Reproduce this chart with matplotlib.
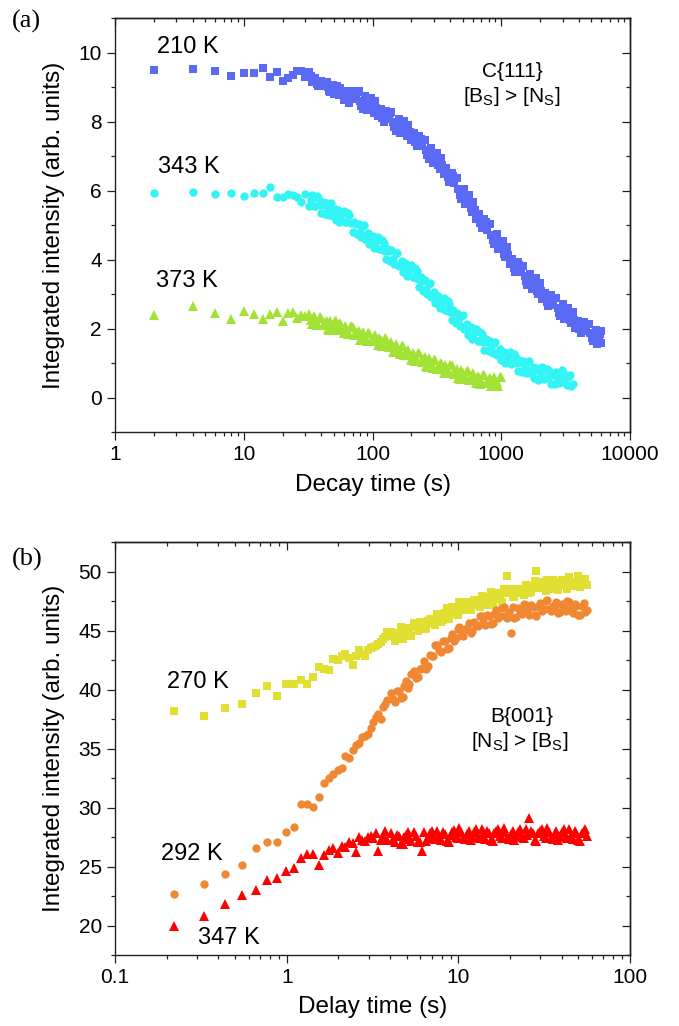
import matplotlib
matplotlib.use('Agg')
import matplotlib.pyplot as plt
from matplotlib.ticker import MultipleLocator, LogLocator, NullFormatter, FuncFormatter

plt.rcParams['font.family'] = ['Liberation Sans', 'DejaVu Sans']
plt.rcParams['mathtext.fontset'] = 'custom'
plt.rcParams['mathtext.rm'] = 'Liberation Sans'
plt.rcParams['mathtext.default'] = 'regular'

# ---------------- panel (a) data : decay time (s) ----------------
time_a_early = [2, 4, 6, 8, 10, 12, 14, 16, 18, 20, 22, 24, 26, 28, 30]
time_a_dense = [32, 34, 36, 38, 40, 42, 44, 46, 48, 50, 52, 54, 56, 60, 62, 66, 70, 74, 78, 82,
                86, 90, 94, 100, 104, 110, 116, 122, 128, 134, 140, 148, 156, 164, 172, 180, 190,
                200, 210, 220, 230, 242, 254, 266, 280, 294, 308, 324, 340, 356, 374, 392, 412,
                432, 454, 476, 500, 526, 552, 580, 608, 638, 670, 704, 740, 776, 816, 856, 898,
                944, 1000, 1050, 1104, 1160, 1218, 1280, 1344, 1412, 1484, 1558, 1636, 1718,
                1804, 1894, 1988, 2088, 2192, 2302, 2418, 2538, 2666, 2800, 2940, 3086, 3240,
                3402, 3600, 3760, 3950, 4148, 4356, 4574, 4802, 5042, 5294, 5560, 5838, 6000]
time_a_mid = [33, 35, 37, 39, 41, 43, 45, 47, 49, 51, 53, 55, 58, 61, 64, 68, 72, 76, 80, 84,
              88, 92, 97, 102, 107, 113, 119, 125, 131, 137, 144, 152, 160, 168, 176, 185, 195,
              205, 215, 225, 236, 248, 260, 273, 287, 301, 316, 332, 348, 365, 383, 402, 422,
              443, 465, 488, 513, 539, 566, 594, 623, 654, 687, 722, 758, 796, 836, 877, 921,
              972, 1025, 1077, 1132, 1189, 1249, 1312, 1378, 1448, 1521, 1597, 1677, 1761,
              1849, 1941, 2038, 2140, 2247, 2360, 2478, 2602, 2733, 2870, 3013, 3163, 3321,
              3501, 3680, 3855, 4049, 4252, 4465, 4688, 4922, 5168, 5427, 5699, 5919]

int_210K = [9.50, 9.51, 9.47, 9.32, 9.40, 9.41, 9.54, 9.30, 9.43, 9.18, 9.25, 9.34, 9.47, 9.46, 9.30,
            9.45, 9.16, 9.26, 9.02, 9.19, 9.03, 9.16, 8.90, 8.97, 8.81, 8.97, 8.82, 8.97,
            8.63, 8.88, 8.54, 8.89, 8.66, 8.88, 8.46, 8.59, 8.33, 8.60,
            8.33, 8.59, 8.16, 8.36, 8.00, 8.31, 8.06, 8.28, 7.84, 7.95,
            7.67, 7.93, 7.66, 7.90, 7.46, 7.66, 7.28, 7.57, 7.28, 7.47,
            7.02, 7.10, 6.80, 7.03, 6.73, 6.95, 6.49, 6.66, 6.26, 6.51,
            6.21, 6.36, 5.88, 5.94, 5.60, 5.81, 5.48, 5.67, 5.18, 5.33,
            4.91, 5.18, 4.87, 5.03, 4.56, 4.63, 4.30, 4.49, 4.17, 4.36,
            3.87, 4.02, 3.63, 3.92, 3.63, 3.82, 3.37, 3.46, 3.16, 3.39,
            3.09, 3.31, 2.85, 3.03, 2.65, 2.96, 2.69, 2.90, 2.46, 2.57,
            2.28, 2.53, 2.25, 2.47, 2.03, 2.23, 1.86, 2.18, 1.93, 2.14,
            1.72, 1.84, 1.56, 1.83, 1.58]
int_210K_mid = [9.31, 9.18, 9.10, 9.16, 9.14, 9.15, 8.99, 8.85, 9.06, 8.87, 9.03, 8.77,
                8.85, 8.71, 8.64, 8.80, 8.83, 8.86, 8.60, 8.37, 8.73, 8.43, 8.69, 8.25,
                8.39, 8.21, 8.11, 8.24, 8.24, 8.26, 7.99, 7.74, 8.08, 7.76, 8.02, 7.57,
                7.69, 7.51, 7.40, 7.51, 7.48, 7.46, 7.17, 6.91, 7.22, 6.88, 7.10, 6.63,
                6.73, 6.53, 6.39, 6.47, 6.41, 6.37, 6.05, 5.76, 6.04, 5.67, 5.87, 5.37,
                5.44, 5.21, 5.05, 5.13, 5.08, 5.04, 4.72, 4.44, 4.74, 4.36, 4.55, 4.06,
                4.13, 3.90, 3.76, 3.86, 3.83, 3.81, 3.52, 3.26, 3.58, 3.24, 3.46, 2.99,
                3.09, 2.89, 2.77, 2.89, 2.88, 2.88, 2.61, 2.36, 2.70, 2.37, 2.61, 2.15,
                2.26, 2.08, 1.98, 2.11, 2.11, 2.12, 1.86, 1.63, 1.97, 1.66, 1.93]

int_343K = [5.94, 5.97, 5.91, 5.94, 5.83, 5.93, 5.94, 6.09, 5.80, 5.80, 5.90, 5.87, 5.80, 5.66, 5.90,
            5.56, 5.87, 5.56, 5.78, 5.35, 5.59, 5.64, 5.28, 5.65, 5.34,
            5.16, 5.43, 5.15, 5.42, 5.10, 5.28, 4.81, 5.02, 5.04, 4.65,
            4.99, 4.66, 4.45, 4.67, 4.37, 4.65, 4.30, 4.49, 4.03, 4.24,
            4.27, 3.87, 4.20, 3.86, 3.65, 3.89, 3.56, 3.85, 3.50, 3.68,
            3.20, 3.39, 3.40, 3.00, 3.32, 2.97, 2.74, 2.95, 2.62, 2.90,
            2.53, 2.72, 2.24, 2.45, 2.46, 2.07, 2.39, 2.05, 1.82, 2.05,
            1.73, 2.00, 1.65, 1.85, 1.39, 1.61, 1.65, 1.28, 1.62, 1.30,
            1.09, 1.33, 1.03, 1.33, 0.99, 1.21, 0.77, 1.01, 1.06, 0.71,
            1.07, 0.77, 0.58, 0.85, 0.56, 0.88, 0.56, 0.80, 0.39, 0.65,
            0.74, 0.41, 0.80, 0.53, 0.37, 0.66, 0.40]
int_343K_mid = [5.74, 5.54, 5.83, 5.57, 5.66, 5.32, 5.42, 5.61, 5.27, 5.46, 5.37, 5.10,
                5.31, 5.08, 5.35, 5.05, 5.10, 4.74, 4.81, 4.96, 4.60, 4.76, 4.63, 4.33,
                4.54, 4.30, 4.56, 4.26, 4.32, 3.96, 4.03, 4.18, 3.81, 3.96, 3.84, 3.53,
                3.73, 3.50, 3.75, 3.44, 3.48, 3.10, 3.16, 3.30, 2.92, 3.06, 2.92, 2.59,
                2.79, 2.54, 2.79, 2.48, 2.53, 2.16, 2.23, 2.37, 2.00, 2.14, 2.01, 1.70,
                1.89, 1.65, 1.91, 1.62, 1.69, 1.34, 1.43, 1.59, 1.24, 1.40, 1.28, 0.99,
                1.21, 0.98, 1.26, 0.99, 1.08, 0.74, 0.85, 1.03, 0.70, 0.88, 0.79, 0.51,
                0.75, 0.54, 0.84, 0.60, 0.71, 0.40, 0.54, 0.75, 0.44, 0.66, 0.59, 0.34]

int_373K = [2.39, 2.66, 2.44, 2.27, 2.50, 2.41, 2.27, 2.41, 2.47, 2.22, 2.45, 2.47, 2.30, 2.38, 2.35,
            2.43, 2.13, 2.29, 2.10, 2.32, 2.09, 2.23, 1.97, 2.12, 1.97,
            2.22, 2.02, 2.17, 1.86, 2.03, 1.84, 2.05, 1.80, 1.93, 1.66,
            1.80, 1.64, 1.88, 1.67, 1.81, 1.52, 1.68, 1.50, 1.71, 1.47,
            1.60, 1.31, 1.44, 1.26, 1.48, 1.27, 1.39, 1.09, 1.24, 1.06,
            1.28, 1.04, 1.17, 0.89, 1.03, 0.86, 1.09, 0.88, 1.01, 0.72,
            0.88, 0.70, 0.93, 0.69, 0.83, 0.55, 0.70, 0.53, 0.77, 0.56,
            0.70, 0.41, 0.58, 0.41, 0.65, 0.43, 0.58, 0.33, 0.49, 0.34,
            0.59]
int_373K_mid = [2.26, 2.35, 2.10, 2.33, 2.09, 2.18, 1.98, 2.22, 2.09, 2.22, 1.97, 2.12,
                2.00, 2.08, 1.84, 2.06, 1.81, 1.89, 1.67, 1.91, 1.76, 1.88, 1.63, 1.76,
                1.65, 1.74, 1.50, 1.72, 1.48, 1.56, 1.33, 1.55, 1.39, 1.49, 1.23, 1.35,
                1.22, 1.30, 1.06, 1.29, 1.05, 1.13, 0.91, 1.14, 0.99, 1.10, 0.84, 0.97,
                0.85, 0.94, 0.70, 0.93, 0.70, 0.78, 0.57, 0.80, 0.66, 0.77, 0.52, 0.65,
                0.54, 0.63, 0.40, 0.65, 0.43, 0.53, 0.33, 0.59, 0.46, 0.59]

# ---------------- panel (b) data : delay time (s) ----------------
time_b_early = [0.22, 0.33, 0.44, 0.55, 0.66, 0.77, 0.88, 0.99, 1.10, 1.21, 1.32, 1.43, 1.54,
                1.65, 1.76, 1.87, 1.98, 2.09, 2.20, 2.31, 2.42, 2.53, 2.64, 2.75, 2.86, 2.97,
                3.08, 3.19, 3.30, 3.41, 3.52, 3.63, 3.74, 3.85]
time_b_dense = [4.07, 4.29, 4.51, 4.73, 4.95, 5.17, 5.50, 5.83, 6.16, 6.49, 6.82, 7.15, 7.48,
                7.92, 8.36, 8.80, 9.24, 9.68, 10.12, 10.67, 11.22, 11.77, 12.32, 12.98, 13.64,
                14.30, 15.07, 15.84, 16.61, 17.49, 18.37, 19.25, 20.24, 21.23, 22.33, 23.43,
                24.64, 25.85, 27.17, 28.49, 29.92, 31.46, 33.00, 34.65, 36.41, 38.17, 40.15,
                42.13, 44.22, 46.42, 48.73, 51.15, 53.68, 56.10]
time_b_mid = [4.18, 4.40, 4.62, 4.84, 5.06, 5.33, 5.66, 5.99, 6.32, 6.65, 6.98, 7.31, 7.70,
              8.14, 8.58, 9.02, 9.46, 9.90, 10.39, 10.94, 11.49, 12.04, 12.65, 13.31, 13.97,
              14.68, 15.45, 16.22, 17.05, 17.93, 18.81, 19.74, 20.73, 21.78, 22.88, 24.03,
              25.24, 26.51, 27.83, 29.20, 30.69, 32.23, 33.82, 35.53, 37.29, 39.16, 41.14,
              43.17, 45.32, 47.57, 49.94, 52.41, 54.89]

int_270K = [38.16, 37.76, 38.41, 38.81, 39.71, 40.27, 39.43, 40.50, 40.44, 40.83, 40.44, 41.06,
            41.90, 41.76, 41.62, 42.61, 42.47, 42.80, 42.97, 42.69, 42.10, 42.86, 43.31, 43.03,
            42.80, 43.31, 43.54, 43.60, 43.73, 43.87, 44.00, 44.30, 44.49, 44.86,
            44.85, 44.10, 44.80, 44.25, 45.25, 44.90, 45.60, 44.95, 45.45, 45.10,
            45.95, 45.65, 46.40, 45.75, 46.45, 45.95, 47.00, 46.70, 47.40, 46.70,
            47.15, 46.75, 47.55, 47.20, 47.95, 47.15, 47.80, 47.20, 48.20, 47.80,
            48.50, 49.65, 48.20, 47.80, 48.55, 48.20, 48.90, 48.15, 48.75, 50.07,
            49.10, 48.60, 49.30, 48.50, 49.05, 48.40, 49.30, 48.90, 49.50, 48.75,
            49.10, 48.65, 49.35, 48.90]
int_270K_mid = [44.50, 44.28, 45.28, 44.70, 45.20, 44.55, 45.28, 45.73, 45.13, 45.83, 45.73, 45.45,
                46.10, 45.93, 46.95, 46.43, 46.98, 46.35, 47.05, 47.45, 46.80, 47.45, 47.30, 47.00,
                47.58, 47.30, 48.25, 47.65, 48.13, 47.45, 48.15, 48.53, 47.85, 48.48, 48.30, 47.98,
                48.55, 48.28, 49.20, 48.58, 49.03, 48.33, 48.98, 49.30, 48.58, 49.15, 48.93, 48.55,
                49.08, 48.75, 49.63, 48.95, 49.35]

int_292K = [22.70, 23.55, 24.39, 25.12, 26.56, 27.04, 27.09, 27.91, 28.36, 30.28, 30.30, 30.02,
            30.87, 32.10, 32.47, 32.84, 33.18, 33.32, 34.36, 34.16, 34.86, 35.29, 35.48, 35.99,
            36.05, 36.22, 36.70, 37.26, 37.68, 37.96, 37.54, 38.52, 38.75, 39.09,
            39.70, 38.95, 39.90, 39.40, 40.70, 40.45, 41.60, 41.05, 41.85, 41.70,
            42.90, 42.85, 43.80, 43.15, 44.10, 43.50, 44.70, 44.35, 45.30, 44.55,
            45.15, 44.80, 45.70, 45.35, 46.20, 45.45, 46.20, 45.60, 46.70, 46.20,
            47.00, 46.10, 44.80, 46.05, 46.90, 46.40, 47.20, 46.30, 47.00, 46.25,
            47.30, 46.80, 47.60, 46.65, 47.00, 46.45, 47.25, 46.65, 47.40, 46.45,
            47.10, 46.30, 47.30, 46.75]
int_292K_mid = [39.20, 39.90, 39.30, 40.30, 40.15, 41.35, 41.00, 41.70, 42.45, 42.00, 42.85, 43.80,
                43.35, 44.10, 43.45, 44.35, 44.10, 45.15, 44.60, 45.10, 45.65, 44.95, 45.50, 46.25,
                45.70, 46.30, 45.55, 46.40, 46.03, 46.93, 46.23, 46.58, 46.98, 46.18, 46.63, 47.28,
                46.63, 47.13, 46.28, 47.03, 46.63, 47.53, 46.80, 47.08, 47.40, 46.55, 46.93, 47.50,
                46.80, 47.25, 46.35, 47.05, 46.60]

int_347K = [20.00, 20.84, 21.86, 22.62, 22.98, 23.83, 24.03, 24.59, 24.87, 25.72, 26.08, 26.08,
            25.15, 26.00, 26.42, 26.56, 26.14, 26.76, 26.65, 27.04, 27.00, 26.19, 27.49, 27.27,
            27.12, 27.49, 27.60, 27.42, 27.88, 26.28, 27.27, 27.60, 27.97, 27.25,
            27.85, 27.05, 27.55, 26.90, 27.70, 27.30, 27.95, 27.10, 26.30, 27.15,
            27.85, 27.40, 28.05, 27.25, 27.75, 27.10, 27.90, 27.50, 28.25, 27.40,
            27.75, 27.25, 27.95, 27.50, 28.15, 27.35, 27.85, 27.20, 28.00, 27.60,
            28.25, 27.40, 27.75, 27.25, 27.95, 27.50, 28.15, 29.10, 27.85, 27.20,
            28.00, 27.60, 28.25, 27.40, 27.75, 27.25, 27.95, 27.50, 28.15, 27.35,
            27.85, 27.20, 28.00, 27.60]
int_347K_mid = [27.35, 27.70, 26.95, 27.50, 27.90, 27.15, 27.60, 27.10, 27.95, 27.45, 28.05, 27.30,
                27.55, 27.90, 27.15, 27.70, 28.10, 27.40, 27.90, 27.30, 28.05, 27.55, 28.15, 27.40,
                27.65, 28.00, 27.25, 27.80, 28.20, 27.45, 27.90, 27.30, 28.05, 27.55, 28.15, 27.40,
                27.65, 28.00, 27.25, 27.80, 28.20, 27.45, 27.90, 27.30, 28.05, 27.55, 28.15, 27.40,
                27.65, 28.00, 27.25, 27.80, 28.20]

time_a = time_a_early + time_a_dense
time_b = time_b_early + time_b_dense

C_210, C_343, C_373 = '#5a6af4', '#33f4f4', '#a2e234'
C_270, C_292, C_347 = '#e2df33', '#f08733', '#fe0000'

fig = plt.figure(figsize=(6.79, 10.26), dpi=100)
ax_a = fig.add_axes([0.1694, 0.5789, 0.7585, 0.4035])
ax_b = fig.add_axes([0.1694, 0.0692, 0.7585, 0.4025])


def series(ax, t, y, tm, ym, marker, color, ms):
    xs = list(t[:len(y)]) + list(tm[:len(ym)])
    ys = list(y) + list(ym)
    ax.plot(xs, ys, marker, color=color, ms=ms, mew=0, zorder=3)


series(ax_a, time_a, int_210K, time_a_mid, int_210K_mid, 's', C_210, 5.6)
series(ax_a, time_a, int_343K, time_a_mid, int_343K_mid, 'o', C_343, 6.0)
series(ax_a, time_a, int_373K, time_a_mid, int_373K_mid, '^', C_373, 6.8)

series(ax_b, time_b, int_270K, time_b_mid, int_270K_mid, 's', C_270, 5.6)
series(ax_b, time_b, int_292K, time_b_mid, int_292K_mid, 'o', C_292, 6.0)
series(ax_b, time_b, int_347K, time_b_mid, int_347K_mid, '^', C_347, 6.8)

fmt = FuncFormatter(lambda v, p: f'{v:g}')
TICK_FS = 15
LABEL_FS = 17.5


def style(ax, xlim, ylim, ymaj, ymin):
    ax.set_xscale('log')
    ax.set_xlim(*xlim)
    ax.set_ylim(*ylim)
    ax.xaxis.set_major_locator(LogLocator(base=10, numticks=20))
    ax.xaxis.set_minor_locator(LogLocator(base=10, subs=range(2, 10), numticks=20))
    ax.xaxis.set_major_formatter(fmt)
    ax.xaxis.set_minor_formatter(NullFormatter())
    ax.yaxis.set_major_locator(MultipleLocator(ymaj))
    ax.yaxis.set_minor_locator(MultipleLocator(ymin))
    for s in ax.spines.values():
        s.set_linewidth(1.0)
        s.set_color('#222222')
    ax.tick_params(which='both', direction='out', top=False, right=False,
                   labelsize=TICK_FS, width=0.9, color='#222222', pad=4)
    ax.tick_params(which='major', length=5.5)
    ax.tick_params(which='minor', length=3)
    sx = ax.secondary_xaxis('top')
    sx.xaxis.set_major_locator(LogLocator(base=10, numticks=20))
    sx.xaxis.set_minor_locator(LogLocator(base=10, subs=range(2, 10), numticks=20))
    sx.tick_params(which='both', direction='in', labeltop=False, width=0.9, color='#222222')
    sx.tick_params(which='major', length=5.5)
    sx.tick_params(which='minor', length=3)
    sx.spines['top'].set_linewidth(1.0)
    sy = ax.secondary_yaxis('right')
    sy.yaxis.set_major_locator(MultipleLocator(ymaj))
    sy.yaxis.set_minor_locator(MultipleLocator(ymin))
    sy.tick_params(which='both', direction='in', labelright=False, width=0.9, color='#222222')
    sy.tick_params(which='major', length=5.5)
    sy.tick_params(which='minor', length=3)
    sy.spines['right'].set_linewidth(1.0)


style(ax_a, (1, 10000), (-1, 11), 2, 1)
style(ax_b, (0.1, 100), (17.5, 52.5), 5, 2.5)

ax_a.set_xlabel('Decay time (s)', fontsize=LABEL_FS, labelpad=7)
ax_a.set_ylabel('Integrated intensity (arb. units)', fontsize=LABEL_FS, labelpad=10)
ax_b.set_xlabel('Delay time (s)', fontsize=LABEL_FS, labelpad=6)
ax_b.set_ylabel('Integrated intensity (arb. units)', fontsize=LABEL_FS, labelpad=10)

ANN_FS = 17
ax_a.text(2.11, 9.98, '210 K', fontsize=ANN_FS, ha='left', va='baseline')
ax_a.text(2.15, 6.50, '343 K', fontsize=ANN_FS, ha='left', va='baseline')
ax_a.text(2.08, 3.19, '373 K', fontsize=ANN_FS, ha='left', va='baseline')
ax_a.text(0.771, 0.858, 'C{111}', fontsize=15, ha='center', va='baseline', transform=ax_a.transAxes)
ax_a.text(0.771, 0.798, r'[B$_\mathregular{S}$] > [N$_\mathregular{S}$]', fontsize=15,
          ha='center', va='baseline', transform=ax_a.transAxes)

ax_b.text(0.200, 40.13, '270 K', fontsize=ANN_FS, ha='left', va='baseline')
ax_b.text(0.1845, 25.57, '292 K', fontsize=ANN_FS, ha='left', va='baseline')
ax_b.text(0.306, 18.45, '347 K', fontsize=ANN_FS, ha='left', va='baseline')
ax_b.text(0.790, 0.565, 'B{001}', fontsize=15, ha='center', va='baseline', transform=ax_b.transAxes)
ax_b.text(0.786, 0.504, r'[N$_\mathregular{S}$] > [B$_\mathregular{S}$]', fontsize=15,
          ha='center', va='baseline', transform=ax_b.transAxes)

fig.text(0.018, 0.979, '(a)', fontsize=19, family='Liberation Serif', ha='left', va='center')
fig.text(0.018, 0.455, '(b)', fontsize=19, family='Liberation Serif', ha='left', va='center')

fig.savefig('out.png', dpi=100)
